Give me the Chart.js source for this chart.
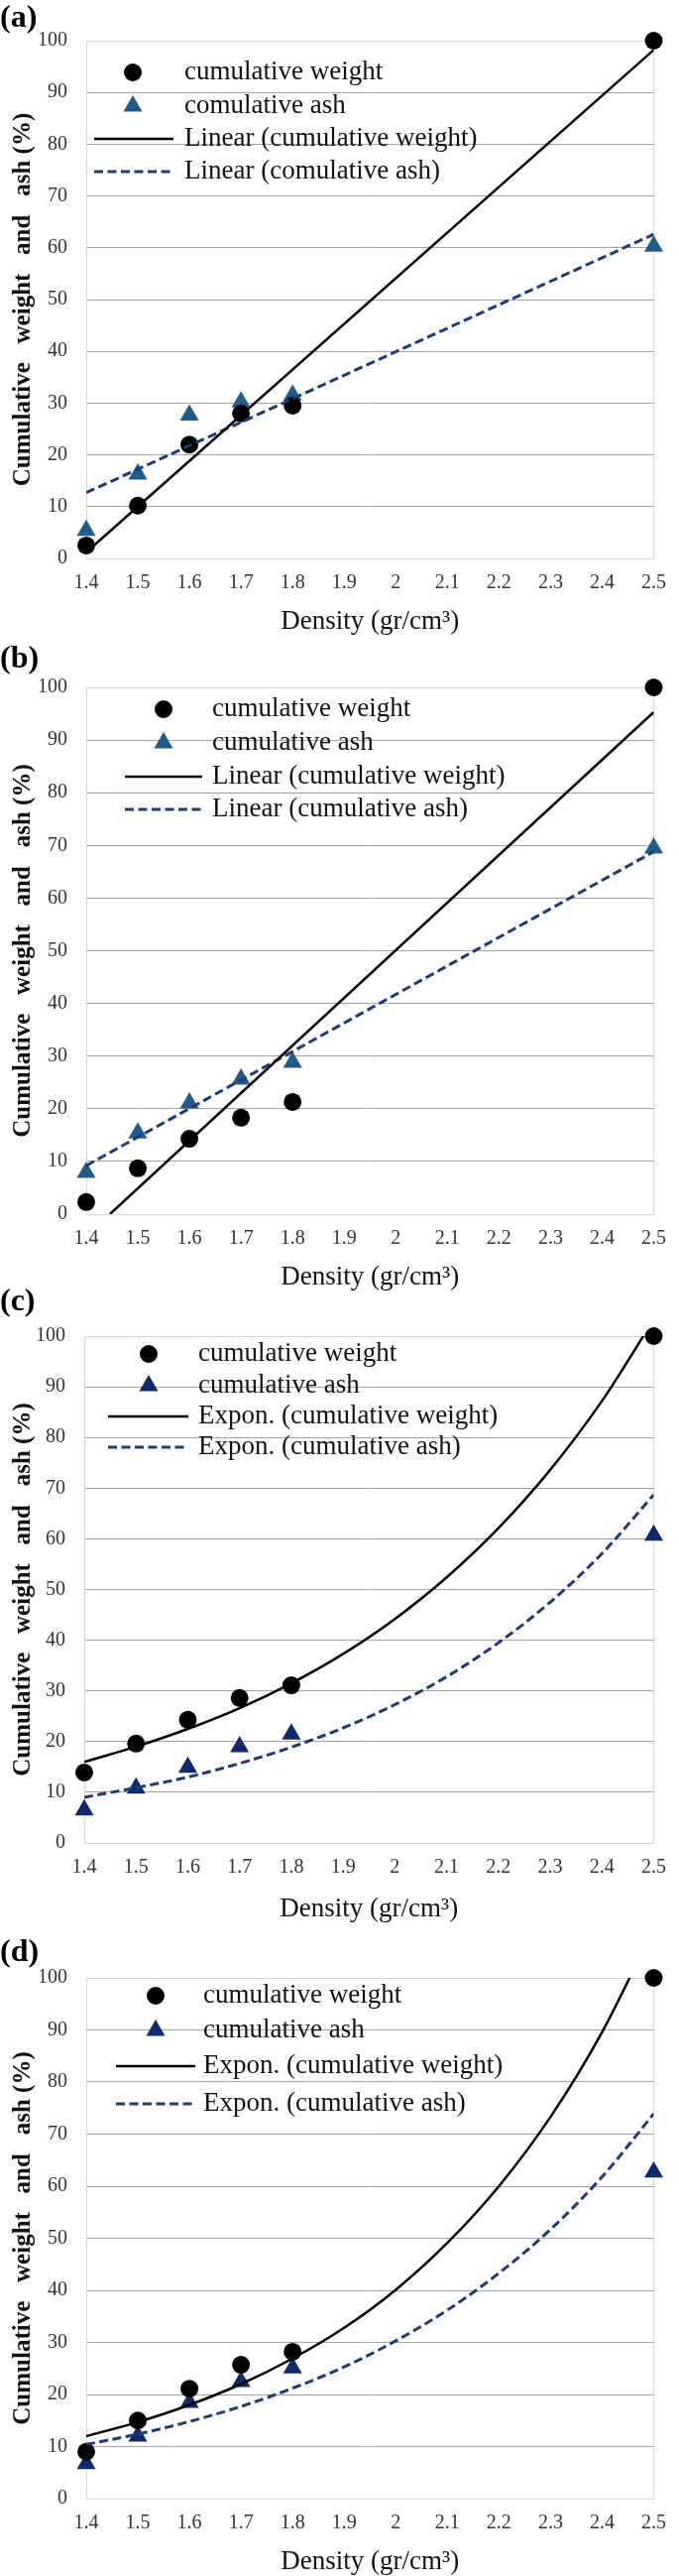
<!DOCTYPE html>
<html>
<head>
<meta charset="utf-8">
<script src="https://cdn.jsdelivr.net/npm/chart.js@4.4.0/dist/chart.umd.min.js"></script>
<style>
  html, body { margin: 0; padding: 0; background: #fff; }
  body { width: 685px; height: 2597px; position: relative; overflow: hidden; }
  canvas { position: absolute; left: 0; }
  .panel-label { position: absolute; left: 0; z-index: 2; font: bold 32px "Liberation Serif", serif; line-height: 32px; color: #000; }
</style>
</head>
<body>
<canvas id="chartA"></canvas>
<canvas id="chartB"></canvas>
<canvas id="chartC"></canvas>
<canvas id="chartD"></canvas>
<div class="panel-label" style="top:0px">(a)</div>
<div class="panel-label" style="top:646px">(b)</div>
<div class="panel-label" style="top:1294px">(c)</div>
<div class="panel-label" style="top:1950px">(d)</div>

<script>
// Density values of the samples (gr/cm3)
const densities = [1.4, 1.5, 1.6, 1.7, 1.8, 2.5];
// x-axis ticks
const xTicks = [1.4, 1.5, 1.6, 1.7, 1.8, 1.9, 2, 2.1, 2.2, 2.3, 2.4, 2.5];

// (a)
const weightA = [2.5, 10.2, 22.0, 28.0, 29.5, 100];
const ashA = [5.4, 16.3, 27.7, 30.2, 31.5, 60.3];
const linTrendX = [1.4, 2.5];
const weightTrendA = [1.2, 98.2];
const ashTrendA = [12.7, 62.6];

// (b)
const weightB = [2.3, 8.7, 14.3, 18.3, 21.3, 100];
const ashB = [7.9, 15.4, 21.1, 25.6, 28.8, 69.5];
const weightTrendXB = [1.446, 2.5];
const weightTrendB = [0, 95.3];
const ashTrendB = [9.2, 68.8];

// (c)
const weightC = [13.9, 19.6, 24.3, 28.6, 31.1, 100];
const ashC = [6.5, 10.8, 14.9, 19.0, 21.5, 60.7];
const weightTrendC = [16.0, 19.0, 22.5, 26.6, 31.5, 37.3, 44.2, 52.4, 62.1, 73.6, 87.2, 103.3];
const ashTrendC = [9.0, 10.9, 13.0, 15.7, 18.9, 22.7, 27.3, 32.8, 39.5, 47.5, 57.1, 68.7];

// (d)
const weightD = [9.0, 15.0, 21.1, 25.7, 28.2, 100];
const ashD = [6.7, 12.0, 18.5, 22.5, 25.1, 62.7];
const weightTrendD = [12.0, 14.7, 18.0, 22.0, 26.9, 32.8, 40.1, 49.1, 60.0, 73.3, 89.6, 109.5];
const ashTrendD = [10.4, 12.4, 14.8, 17.7, 21.2, 25.3, 30.3, 36.2, 43.3, 51.7, 61.8, 73.9];

const SERIF = '"Liberation Serif", "Times New Roman", serif';
const DASH_COLOR = '#1f3a78';

function toPoints(xs, ys) {
    return xs.map((x, i) => ({ x: x, y: ys[i] }));
}

// Legend drawn inside the plot area, like the original figure
const insideLegend = {
    id: 'insideLegend',
    afterDatasetsDraw(chart, args, opts) {
        const ctx = chart.ctx;
        const top = chart.chartArea.top;
        ctx.save();
        ctx.font = '27px ' + SERIF;
        ctx.textBaseline = 'middle';
        opts.order.forEach((dsIndex, row) => {
            const ds = chart.data.datasets[dsIndex];
            const y = top + opts.rows[row];
            if (ds.showLine) {
                ctx.strokeStyle = ds.borderColor;
                ctx.lineWidth = ds.borderWidth;
                ctx.setLineDash(ds.borderDash || []);
                ctx.beginPath();
                ctx.moveTo(opts.lineX[0], y);
                ctx.lineTo(opts.lineX[1], y);
                ctx.stroke();
                ctx.setLineDash([]);
            } else {
                ctx.fillStyle = ds.backgroundColor;
                Chart.helpers.drawPoint(ctx, {
                    pointStyle: ds.pointStyle,
                    radius: ds.pointRadius,
                    rotation: 0,
                    borderWidth: 0
                }, opts.markerX, y);
            }
            ctx.fillStyle = '#111';
            ctx.fillText(ds.label, opts.textX, y);
        });
        ctx.restore();
    }
};

function makePanel(id, cfg) {
    const canvas = document.getElementById(id);
    const width = 685;
    const xAxisHeight = cfg.xAxisHeight || 80;
    const height = cfg.bottom - cfg.y0 + xAxisHeight;
    canvas.width = width;
    canvas.height = height;
    canvas.style.top = cfg.y0 + 'px';
    canvas.style.width = width + 'px';
    canvas.style.height = height + 'px';

    const trendCommon = { showLine: true, pointRadius: 0, pointHoverRadius: 0, fill: false };

    new Chart(canvas.getContext('2d'), {
        type: 'scatter',
        data: {
            datasets: [{
                ...trendCommon,
                label: cfg.labels[2],
                data: cfg.weightTrend,
                borderColor: '#000',
                borderWidth: 2.5,
                cubicInterpolationMode: 'monotone'
            }, {
                ...trendCommon,
                label: cfg.labels[3],
                data: cfg.ashTrend,
                borderColor: DASH_COLOR,
                borderWidth: 3,
                borderDash: [9, 4.5],
                cubicInterpolationMode: 'monotone'
            }, {
                label: cfg.labels[0],
                data: toPoints(densities, cfg.weight),
                showLine: false,
                pointStyle: 'circle',
                pointRadius: 9,
                backgroundColor: '#000',
                borderWidth: 0,
                clip: false
            }, {
                label: cfg.labels[1],
                data: toPoints(densities, cfg.ash),
                showLine: false,
                pointStyle: 'triangle',
                pointRadius: 11,
                backgroundColor: cfg.triColor,
                borderWidth: 0,
                clip: false
            }]
        },
        options: {
            responsive: false,
            animation: false,
            devicePixelRatio: 1,
            layout: {
                padding: { top: cfg.top - cfg.y0, right: width - cfg.right, bottom: 0, left: 0 }
            },
            plugins: {
                legend: { display: false },
                tooltip: { enabled: false },
                insideLegend: cfg.legend
            },
            scales: {
                x: {
                    type: 'linear',
                    min: 1.4,
                    max: 2.5,
                    afterBuildTicks: scale => { scale.ticks = xTicks.map(v => ({ value: v })); },
                    afterFit: scale => { scale.height = xAxisHeight; },
                    ticks: {
                        callback: v => String(v),
                        font: { family: SERIF, size: 20 },
                        color: '#333',
                        padding: 13,
                        maxRotation: 0,
                        autoSkip: false
                    },
                    grid: {
                        drawTicks: false,
                        color: ctx => (ctx.index === xTicks.length - 1 ? '#d9d9d9' : 'rgba(0,0,0,0)')
                    },
                    border: { color: '#d9d9d9' },
                    title: {
                        display: true,
                        text: 'Density (gr/cm³)',
                        font: { family: SERIF, size: 27 },
                        color: '#111',
                        padding: { top: 0, bottom: 0 }
                    }
                },
                y: {
                    min: 0,
                    max: 100,
                    afterFit: scale => { scale.width = cfg.left; },
                    ticks: {
                        stepSize: 10,
                        font: { family: SERIF, size: 20 },
                        color: '#333',
                        padding: 19
                    },
                    grid: {
                        drawTicks: false,
                        color: ctx => (ctx.tick && (ctx.tick.value === 0 || ctx.tick.value === 100) ? '#d9d9d9' : '#a3a3a3')
                    },
                    border: { color: '#d9d9d9' },
                    title: {
                        display: true,
                        text: 'Cumulative   weight   and   ash (%)',
                        font: { family: SERIF, size: 25, weight: 'bold' },
                        color: '#111',
                        padding: { top: 9, bottom: 0 }
                    }
                }
            }
        },
        plugins: [insideLegend]
    });
}

makePanel('chartA', {
    y0: 0, top: 41, bottom: 563, left: 87, right: 670,
    weight: weightA, ash: ashA,
    weightTrend: toPoints(linTrendX, weightTrendA),
    ashTrend: toPoints(linTrendX, ashTrendA),
    triColor: '#215b8c',
    labels: ['cumulative weight', 'comulative ash', 'Linear (cumulative weight)', 'Linear (comulative ash)'],
    legend: { order: [2, 3, 0, 1], rows: [32, 66, 99, 132], markerX: 134, lineX: [95, 175], textX: 186 }
});

makePanel('chartB', {
    y0: 650, top: 693, bottom: 1224, left: 87, right: 665,
    weight: weightB, ash: ashB,
    weightTrend: toPoints(weightTrendXB, weightTrendB),
    ashTrend: toPoints(linTrendX, ashTrendB),
    triColor: '#215b8c',
    labels: ['cumulative weight', 'cumulative ash', 'Linear (cumulative weight)', 'Linear (cumulative ash)'],
    legend: { order: [2, 3, 0, 1], rows: [22, 56, 90, 123], markerX: 165, lineX: [126, 204], textX: 214 }
});

makePanel('chartC', {
    y0: 1302, top: 1347, bottom: 1858, left: 85, right: 667, xAxisHeight: 83,
    weight: weightC, ash: ashC,
    weightTrend: toPoints(xTicks, weightTrendC),
    ashTrend: toPoints(xTicks, ashTrendC),
    triColor: '#0f2a6b',
    labels: ['cumulative weight', 'cumulative ash', 'Expon. (cumulative weight)', 'Expon. (cumulative ash)'],
    legend: { order: [2, 3, 0, 1], rows: [18, 50, 81, 112], markerX: 150, lineX: [109, 190], textX: 200 }
});

makePanel('chartD', {
    y0: 1950, top: 1994, bottom: 2519, left: 87, right: 667,
    weight: weightD, ash: ashD,
    weightTrend: toPoints(xTicks, weightTrendD),
    ashTrend: toPoints(xTicks, ashTrendD),
    triColor: '#0f2a6b',
    labels: ['cumulative weight', 'cumulative ash', 'Expon. (cumulative weight)', 'Expon. (cumulative ash)'],
    legend: { order: [2, 3, 0, 1], rows: [18, 53, 89, 127], markerX: 157, lineX: [117, 197], textX: 205 }
});
</script>
</body>
</html>
